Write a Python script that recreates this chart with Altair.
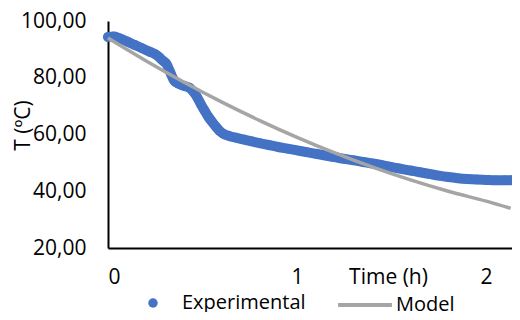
import altair as alt
import pandas as pd

# Experimental data (time in h, temperature in ºC)
t_exp = [0.00, 0.03, 0.06, 0.10, 0.14, 0.18, 0.22, 0.25, 0.27, 0.29, 0.31, 0.33,
         0.35, 0.37, 0.40, 0.43, 0.45, 0.47, 0.49, 0.51, 0.53, 0.55, 0.57, 0.59,
         0.61, 0.64, 0.68, 0.72, 0.76, 0.80, 0.85, 0.90, 0.95, 1.00, 1.05, 1.10,
         1.15, 1.20, 1.25, 1.30, 1.35, 1.40, 1.45, 1.50, 1.55, 1.60, 1.65, 1.70,
         1.75, 1.80, 1.85, 1.90, 1.95, 2.00, 2.05, 2.10, 2.13]
T_exp = [94.4, 94.5, 93.9, 92.8, 91.6, 90.4, 89.2, 88.3, 87.3, 86.0, 84.8, 81.8,
         79.0, 78.0, 77.2, 76.5, 75.2, 73.3, 70.8, 68.5, 66.3, 64.5, 62.8, 61.3,
         60.3, 59.5, 58.8, 58.2, 57.6, 57.0, 56.3, 55.6, 55.0, 54.4, 53.8, 53.2,
         52.6, 52.0, 51.4, 50.9, 50.3, 49.8, 49.2, 48.5, 47.9, 47.3, 46.7, 46.1,
         45.5, 45.0, 44.6, 44.3, 44.1, 44.0, 43.9, 43.9, 43.9]

# Model curve
t_mod = [0.0, 0.2, 0.4, 0.6, 0.8, 1.0, 1.2, 1.4, 1.6, 1.8, 2.0, 2.13]
T_mod = [94.0, 86.0, 78.5, 71.5, 65.0, 59.0, 53.5, 48.5, 44.0, 40.0, 36.5, 34.0]

x_ticks = [0, 1, 2]
y_ticks = [20, 40, 60, 80, 100]

df_exp = pd.DataFrame({"t": t_exp, "T": T_exp, "series": "Experimental"})
df_mod = pd.DataFrame({"t": t_mod, "T": T_mod, "series": "Model"})

FONT = "Open Sans"
FS = 21
LFS = 20
BLUE = "#4472C4"
GRAY = "#A5A5A5"

x_enc = alt.X("t:Q", scale=alt.Scale(domain=[0, 2.137], nice=False),
              axis=alt.Axis(values=x_ticks, title="Time (h)", grid=False,
                            format="d",
                            ticks=False, tickSize=0, labelPadding=29,
                            labelBaseline="middle", labelFontSize=FS,
                            titleFontSize=FS, titleFontWeight="normal",
                            titleX=280, titleY=29, titleBaseline="middle",
                            titleAlign="center",
                            domainColor="black", domainWidth=2,
                            labelColor="black", titleColor="black"))
y_enc = alt.Y("T:Q", scale=alt.Scale(domain=[20, 100], nice=False),
              axis=alt.Axis(values=y_ticks, title="T (ºC)", grid=False,
                            ticks=False, tickSize=0, labelPadding=22,
                            labelFontSize=FS, titleFontSize=FS,
                            titleFontWeight="normal",
                            labelExpr="replace(format(datum.value, '.2f'), '.', ',')",
                            titleX=-85, titleY=104, titleBaseline="middle",
                            titleAlign="center", titleAngle=-90,
                            domainColor="black", domainWidth=2,
                            labelColor="black", titleColor="black"))

exp_band = alt.Chart(df_exp).mark_line(
    strokeWidth=10, color=BLUE, interpolate="monotone", strokeCap="round",
    strokeJoin="round").encode(x=x_enc, y=y_enc)

exp = alt.Chart(df_exp).mark_circle(size=90, opacity=1).encode(
    x="t:Q", y="T:Q",
    color=alt.Color("series:N", scale=alt.Scale(domain=["Experimental"], range=[BLUE]),
                    legend=alt.Legend(title=None, orient="none", legendX=35, legendY=272,
                                      labelFontSize=LFS, labelColor="black",
                                      labelOffset=19, symbolSize=90,
                                      symbolType="circle", padding=0)),
)

mod = alt.Chart(df_mod).mark_line(strokeWidth=3.5, interpolate="monotone").encode(
    x="t:Q", y="T:Q",
    color=alt.Color("series:N", scale=alt.Scale(domain=["Model"], range=[GRAY]),
                    legend=alt.Legend(title=None, orient="none", legendX=228, legendY=255,
                                      labelFontSize=LFS, labelColor="black",
                                      labelOffset=2, symbolSize=2900,
                                      symbolType="stroke", symbolStrokeWidth=4,
                                      padding=0)),
)

chart = alt.layer(exp_band, exp, mod).resolve_scale(color="independent").properties(
    width=404, height=227,
    autosize=alt.AutoSizeParams(type="none"),
    padding={"left": 100, "top": 13, "right": 0, "bottom": 64},
).configure(font=FONT).configure_view(stroke=None)

chart.save("out.html", embed_options={"renderer": "svg", "actions": False})
